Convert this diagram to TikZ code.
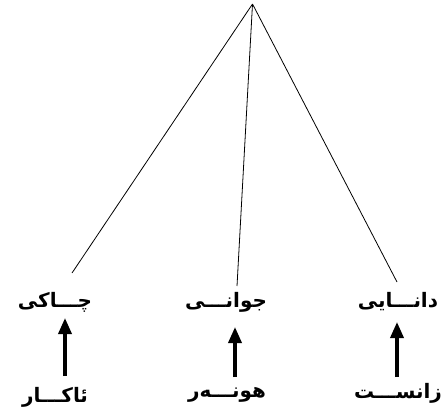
\documentclass[tikz,border=0pt]{standalone}
\usepackage{fontspec}
\newfontfamily\arabicfont[Script=Arabic,BoldFont={DejaVu Sans Bold}]{DejaVu Sans}
\TeXXeTstate=1
\usetikzlibrary{arrows.meta}
\tikzset{
  lbl/.style={font=\arabicfont\bfseries\fontsize{20}{22}\selectfont, inner sep=0pt},
  thin line/.style={draw=black, line width=0.8bp},
  up arrow/.style={draw=black, line width=3.5bp, -{Triangle[length=16bp,width=13bp]}}
}
\begin{document}
\begin{tikzpicture}[x=1bp,y=-1bp]
\useasboundingbox (0,0) rectangle (447,414);
\coordinate (apex) at (252.5,4);
\coordinate (e1) at (72,273);
\coordinate (e2) at (237,286);
\coordinate (e3) at (397,282);
\draw[thin line] (apex) -- (e1);
\draw[thin line] (apex) -- (e2);
\draw[thin line] (apex) -- (e3);
\node[lbl] (g1) at (55,302) {\beginR چـــاکی\endR};
\node[lbl] (g2) at (226,302) {\beginR جوانـــی\endR};
\node[lbl] (g3) at (398,302) {\beginR دانـــایی\endR};
\node[lbl] (s1) at (55,397) {\beginR ئاکـــار\endR};
\node[lbl] (s2) at (227,395) {\beginR هونـــەر\endR};
\node[lbl] (s3) at (398,393) {\beginR زانســـت\endR};
\coordinate (a1t) at (65,318);
\coordinate (a1b) at (65,376);
\coordinate (a2t) at (235,327);
\coordinate (a2b) at (235,377);
\coordinate (a3t) at (397,322);
\coordinate (a3b) at (397,377);
\draw[up arrow] (a1b) -- (a1t);
\draw[up arrow] (a2b) -- (a2t);
\draw[up arrow] (a3b) -- (a3t);
\end{tikzpicture}
\end{document}
